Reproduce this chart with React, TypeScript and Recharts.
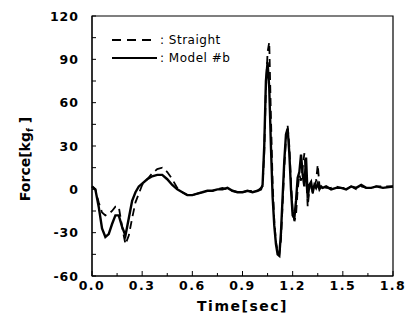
import React from "react";
import {
  LineChart,
  Line,
  XAxis,
  YAxis,
  ReferenceArea,
} from "recharts";

// time axis (sec)
const time = [
  0, 0.02, 0.04, 0.06, 0.08, 0.1, 0.12, 0.14, 0.16, 0.18,
  0.2, 0.22, 0.24, 0.26, 0.28, 0.3, 0.33, 0.36, 0.39, 0.42,
  0.45, 0.48, 0.51, 0.54, 0.57, 0.6, 0.63, 0.66, 0.69, 0.72,
  0.75, 0.78, 0.81, 0.84, 0.87, 0.9, 0.93, 0.96, 0.99, 1.01,
  1.02, 1.03, 1.04, 1.05, 1.06, 1.07, 1.08, 1.09, 1.1, 1.11,
  1.12, 1.13, 1.14, 1.15, 1.16, 1.17, 1.18, 1.19, 1.2, 1.21,
  1.22, 1.23, 1.24, 1.25, 1.26, 1.27, 1.28, 1.29, 1.3, 1.31,
  1.32, 1.33, 1.34, 1.35, 1.36, 1.37, 1.38, 1.4, 1.43, 1.46,
  1.49, 1.52, 1.55, 1.58, 1.61, 1.64, 1.67, 1.7, 1.74, 1.8,
];

// Force [kgf]
const modelB = [
  2, 0, -12, -27, -33, -31, -24, -18, -18, -26,
  -32, -20, -8, -2, 2, 4, 7, 9, 10, 10,
  7, 3, 0, -2, -4, -4, -3, -2, -1, -1,
  0, 0, 1, -1, -2, -2, -1, -2, -1, 0,
  3, 30, 75, 88, 70, 30, -5, -25, -38, -45,
  -46, -30, -5, 20, 38, 42, 25, 0, -18, -20,
  -8, 8, 12, 24, 10, 2, 22, -6, 3, 5,
  -2, 3, 1, 4, 0, 2, 1, 2, 0, 1,
  1, 0, 2, 1, 3, 1, 1, 2, 1, 2,
];

const straight = [
  2, 0, -9, -16, -18, -17, -15, -12, -12, -26,
  -38, -32, -20, -9, -3, 3, 7, 11, 14, 15,
  12, 7, 1, -2, -4, -4, -3, -2, -1, -1,
  0, 1, 0, -1, -2, -2, -1, -1, -1, 1,
  2, 25, 70, 95, 102, 50, 5, -22, -36, -43,
  -45, -35, -10, 15, 35, 44, 30, 5, -15, -22,
  -18, 0, 10, 6, 15, 25, 10, -12, 0, 5,
  -3, 2, 6, 17, 3, 0, 2, 1, 1, 2,
  1, 1, 2, 0, 2, 1, 1, 2, 2, 2,
];

const xTicks = [0, 0.15, 0.3, 0.45, 0.6, 0.75, 0.9, 1.05, 1.2, 1.35, 1.5, 1.65, 1.8];
const yTicks = [-60, -45, -30, -15, 0, 15, 30, 45, 60, 75, 90, 105, 120];

const data = time.map((t, i) => ({ t, modelB: modelB[i], straight: straight[i] }));

const FONT = "'DejaVu Sans', 'Liberation Sans', Arial, sans-serif";
const Y_GAP = 14;
const X_GAP = 4;

function YTick(props: any) {
  const { x, y, payload } = props;
  const v = payload.value;
  const major = Math.abs(v % 30) < 1e-6;
  const ax = x + Y_GAP;
  return (
    <g>
      <line x1={ax} x2={ax + 4} y1={y} y2={y} stroke="#000" strokeWidth={1} />
      {major && (
        <text
          x={x + 1}
          y={y}
          dy={4.5}
          textAnchor="end"
          fontFamily={FONT}
          fontWeight="bold"
          fontSize={12.5}
          letterSpacing={1}
          fill="#000"
        >
          {v}
        </text>
      )}
    </g>
  );
}

function XTick(props: any) {
  const { x, y, payload } = props;
  const v = payload.value;
  const major = Math.abs((v / 0.3) - Math.round(v / 0.3)) < 1e-6;
  const ay = y - X_GAP;
  return (
    <g>
      <line x1={x} x2={x} y1={ay} y2={ay - (major ? 5 : 3)} stroke="#000" strokeWidth={1} />
      {major && (
        <text
          x={x}
          y={y}
          dy={9.5}
          textAnchor="middle"
          fontFamily={FONT}
          fontWeight="bold"
          fontSize={12.5}
          letterSpacing={1.5}
          fill="#000"
        >
          {v.toFixed(1)}
        </text>
      )}
    </g>
  );
}

export default function App() {
  return (
    <div style={{ position: "absolute", left: 0, top: 0, width: 409, height: 323, background: "#fff" }}>
      <LineChart
        width={409}
        height={323}
        data={data}
        margin={{ top: 16, right: 16, left: 0, bottom: 0 }}
      >
        <XAxis
          dataKey="t"
          type="number"
          domain={[0, 1.8]}
          ticks={xTicks}
          interval={0}
          height={47}
          tickSize={0}
          tickMargin={X_GAP}
          tickLine={false}
          axisLine={{ stroke: "#000" }}
          tick={<XTick />}
          label={{
            content: (p: any) => (
              <text
                x={p.viewBox.x + p.viewBox.width / 2}
                y={p.viewBox.y + 35}
                textAnchor="middle"
                fontFamily={FONT}
                fontWeight="bold"
                fontSize={14}
                letterSpacing={1.5}
                fill="#000"
              >
                Time[sec]
              </text>
            ),
          }}
        />
        <YAxis
          type="number"
          domain={[-60, 120]}
          ticks={yTicks}
          interval={0}
          width={92}
          tickSize={0}
          tickMargin={Y_GAP}
          tickLine={false}
          axisLine={{ stroke: "#000" }}
          tick={<YTick />}
          label={{
            content: (p: any) => {
              const cx = 30;
              const cy = p.viewBox.y + p.viewBox.height / 2 + 13;
              return (
                <text
                  transform={`translate(${cx},${cy}) rotate(-90)`}
                  textAnchor="middle"
                  fontFamily={FONT}
                  fontWeight="bold"
                  fontSize={14}
                  fill="#000"
                >
                  Force[kg
                  <tspan fontSize={9} dy={3}>f</tspan>
                  <tspan dy={-3}> ]</tspan>
                </text>
              );
            },
          }}
        />
        <ReferenceArea x1={0} x2={1.8} y1={-60} y2={120} fill="none" stroke="#000" strokeWidth={1.2} />
        <Line
          type="linear"
          dataKey="straight"
          stroke="#000"
          strokeWidth={1.8}
          strokeDasharray="8 5"
          dot={false}
          isAnimationActive={false}
        />
        <Line
          type="linear"
          dataKey="modelB"
          stroke="#000"
          strokeWidth={2.4}
          dot={false}
          isAnimationActive={false}
        />
      </LineChart>
      <svg
        width={409}
        height={323}
        style={{ position: "absolute", left: 0, top: 0, pointerEvents: "none" }}
      >
        <line x1={112} x2={157} y1={40} y2={40} stroke="#000" strokeWidth={1.8} strokeDasharray="9 6" />
        <text x={160} y={44} fontFamily={FONT} fontSize={12} letterSpacing={0.5} fill="#000">
          : Straight
        </text>
        <line x1={112} x2={157} y1={58} y2={58} stroke="#000" strokeWidth={2} />
        <text x={160} y={62} fontFamily={FONT} fontSize={12} letterSpacing={0.5} fill="#000">
          : Model #b
        </text>
      </svg>
    </div>
  );
}
